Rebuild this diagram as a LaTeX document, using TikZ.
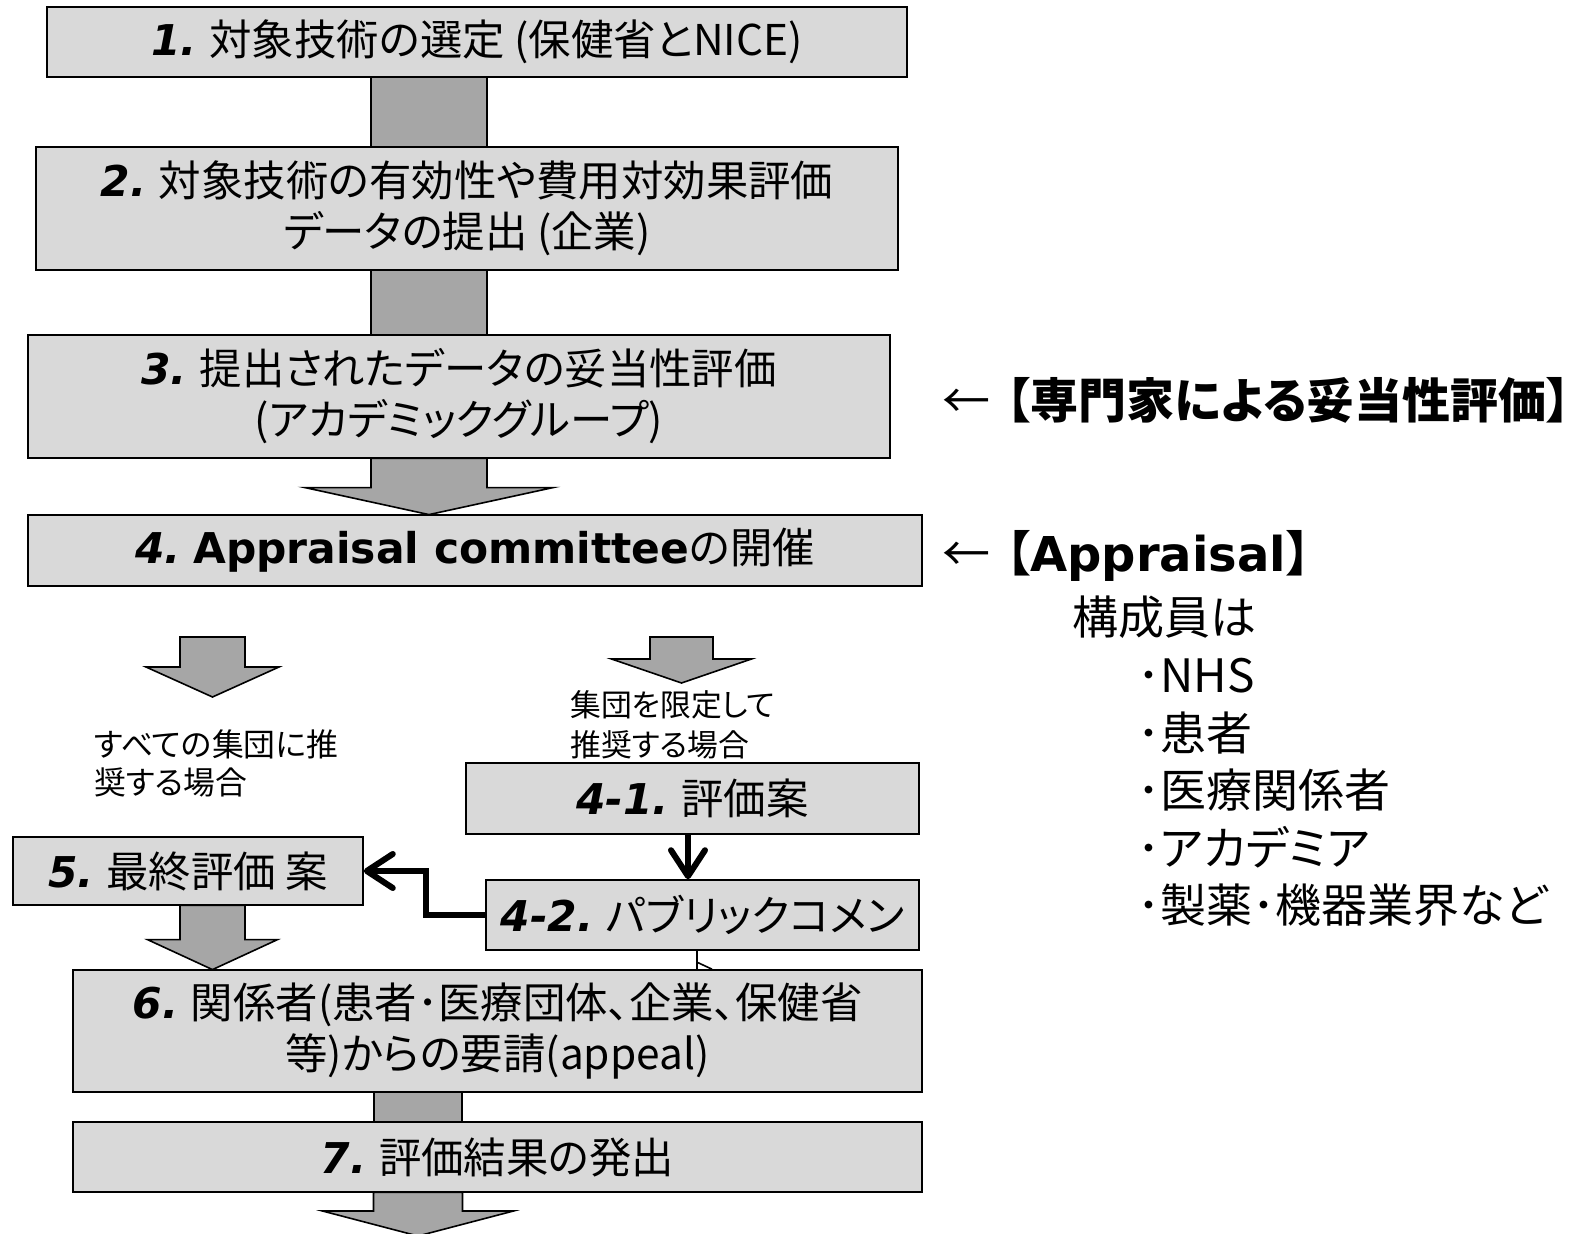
\documentclass[tikz,border=0pt]{standalone}
\usepackage{fontspec}
\setmainfont{Noto Sans CJK JP}[RawFeature=+palt]
\newfontfamily\vf{DejaVu Sans}
\usetikzlibrary{arrows.meta,fit,calc}
\definecolor{boxgray}{HTML}{D9D9D9}
\definecolor{arrgray}{HTML}{A6A6A6}
\newcommand\num[1]{{\vf\bfseries\itshape #1}}
\newcommand\boxfont{\fontsize{21.2pt}{25.5pt}\selectfont}
\newcommand\smallfontA{\fontsize{15.9pt}{18.8pt}\selectfont}
\newcommand\smallfontB{\fontsize{15.4pt}{19.8pt}\selectfont}
\newcommand\headfont{\fontsize{24pt}{28pt}\selectfont}
\newcommand\sidefont{\fontsize{23pt}{27pt}\selectfont}
\newcommand\blockarrow[5]{%
  \path[blk] let \p1=(#1), \p2=(#2) in
    (\x1-#3,\y1) -- (\x1+#3,\y1) -- (\x1+#3,\y2+#5) -- (\x1+#4,\y2+#5)
    -- (\x1,\y2) -- (\x1-#4,\y2+#5) -- (\x1-#3,\y2+#5) -- cycle;}
\begin{document}
\begin{tikzpicture}[x=0.5pt,y=-0.5pt,
  box/.style={draw=black, line width=0.8pt, fill=boxgray, inner sep=0pt},
  boxtext/.style={align=center, font=\boxfont, inner sep=0pt},
  blk/.style={draw=black, line width=0.8pt, fill=arrgray},
  thickarr/.style={line width=3pt, -{Straight Barb[round,length=13pt,width=17pt]}},
  thinline/.style={line width=0.8pt},
  lbl/.style={anchor=west, align=left, inner sep=0pt},
  head/.style={anchor=west, font=\headfont, inner sep=0pt},
  side/.style={anchor=west, font=\sidefont, inner sep=0pt}]
\useasboundingbox (0,0) rectangle (1596,1234);
% column coordinates
\coordinate (c12) at (429,0);
\coordinate (c67) at (418,0);
\coordinate (c56) at (212.5,0);
\coordinate (cL0) at (212.5,637);
\coordinate (cL1) at (212.5,697);
\coordinate (cR0) at (681.5,637);
\coordinate (cR1) at (681.5,683);
\coordinate (c7end) at (418.5,1236);
\coordinate (c41) at (688,0);
\coordinate (c42) at (697,0);
\coordinate (cbend) at (426,0);
% box corners
\path (47,7) coordinate (b1a) (907,77) coordinate (b1b)
      (36,147) coordinate (b2a) (898,270) coordinate (b2b)
      (28,335) coordinate (b3a) (890,458) coordinate (b3b)
      (28,515) coordinate (b4a) (922,586) coordinate (b4b)
      (466,763) coordinate (b41a) (919,834) coordinate (b41b)
      (486,880) coordinate (b42a) (919,950) coordinate (b42b)
      (13,837) coordinate (b5a) (363,905) coordinate (b5b)
      (73,970) coordinate (b6a) (922,1092) coordinate (b6b)
      (73,1122) coordinate (b7a) (922,1192) coordinate (b7b);
% invisible placeholders for anchors
\node[fit=(b1a)(b1b), inner sep=0pt] (p1) {};
\node[fit=(b2a)(b2b), inner sep=0pt] (p2) {};
\node[fit=(b3a)(b3b), inner sep=0pt] (p3) {};
\node[fit=(b4a)(b4b), inner sep=0pt] (p4) {};
\node[fit=(b5a)(b5b), inner sep=0pt] (p5) {};
\node[fit=(b6a)(b6b), inner sep=0pt] (p6) {};
\node[fit=(b7a)(b7b), inner sep=0pt] (p7) {};
% block connectors (behind boxes)
\path[blk] ($(c12 |- p1.south)+(-58,0)$) rectangle ($(c12 |- p2.north)+(58,0)$);
\path[blk] ($(c12 |- p2.south)+(-58,0)$) rectangle ($(c12 |- p3.north)+(58,0)$);
\blockarrow{c12 |- p3.south}{c12 |- p4.north}{29pt}{62pt}{13.5pt}
\blockarrow{cL0}{cL1}{16.25pt}{33.25pt}{15pt}
\blockarrow{cR0}{cR1}{15.75pt}{35pt}{12pt}
\blockarrow{c56 |- p5.south}{c56 |- p6.north}{16.25pt}{32.5pt}{15pt}
\path[blk] ($(c67 |- p6.south)+(-44,0)$) rectangle ($(c67 |- p7.north)+(44,0)$);
\blockarrow{c67 |- p7.south}{c7end}{22.25pt}{47.75pt}{12.5pt}
% boxes
\node[box, fit=(b1a)(b1b)] (n1) {};
\node[box, fit=(b2a)(b2b)] (n2) {};
\node[box, fit=(b3a)(b3b)] (n3) {};
\node[box, fit=(b4a)(b4b)] (n4) {};
\node[box, fit=(b41a)(b41b)] (n41) {};
\node[box, fit=(b42a)(b42b)] (n42) {};
\node[box, fit=(b5a)(b5b)] (n5) {};
\node[box, fit=(b6a)(b6b)] (n6) {};
\node[box, fit=(b7a)(b7b)] (n7) {};
% thin connector 4-2 -> 6 (mostly hidden)
\draw[thinline] (c42 |- n42.south) -- (c42 |- n6.north);
\draw[thinline] ($(c42 |- n6.north)+(0,-7)$) -- ($(c42 |- n6.north)+(15,0)$);
% box texts
\node[boxtext] (t1) at (n1.center) {\num{1.} 対象技術の選定 (保健省とNICE)};
\node[boxtext] (t2) at (n2.center) {\num{2.} 対象技術の有効性や費用対効果評価\\データの提出 (企業)};
\node[boxtext] (t3) at (n3.center) {\num{3.} 提出されたデータの妥当性評価\\(アカデミックグループ)};
\node[boxtext] (t4) at (n4.center) {\num{4.} {\vf\bfseries Appraisal committee}の開催};
\node[boxtext] (t41) at (n41.center) {\num{4-1.} 評価案};
\node[boxtext] (t42) at (n42.center) {\num{4-2.} パブリックコメン};
\node[boxtext] (t5) at (n5.center) {\num{5.} 最終評価 案};
\node[boxtext] (t6) at (n6.center) {\num{6.} 関係者(患者･医療団体、企業、保健省\\等)からの要請(appeal)};
\node[boxtext] (t7) at (n7.center) {\num{7.} 評価結果の発出};
% thick arrows
\draw[thickarr] (c41 |- n41.south) -- (c41 |- n42.north);
\draw[thickarr] (n42.west) -| (cbend |- n5.east) -- (n5.east);
% labels
\node[lbl, font=\smallfontA] (l1) at (94,763.5) {すべての集団に推\\奨する場合};
\node[lbl, font=\smallfontB] (l2) at (570,725) {集団を限定して\\推奨する場合};
% side annotations
\node[head] (s1) at (942,400) {←\hspace{8pt}\textbf{【専門家による妥当性評価】}};
\node[head] (s2) at (942,556) {←\hspace{8pt}\textbf{【{\vf Appraisal}】}};
\node[side] (s3) at (1072,617) {構成員は};
\node[side] (s4) at (1137,676) {･NHS};
\node[side] (s5) at (1137,733) {･患者};
\node[side] (s6) at (1137,790) {･医療関係者};
\node[side] (s7) at (1137,847) {･アカデミア};
\node[side] (s8) at (1137,905) {･製薬･機器業界など};
\end{tikzpicture}
\end{document}
